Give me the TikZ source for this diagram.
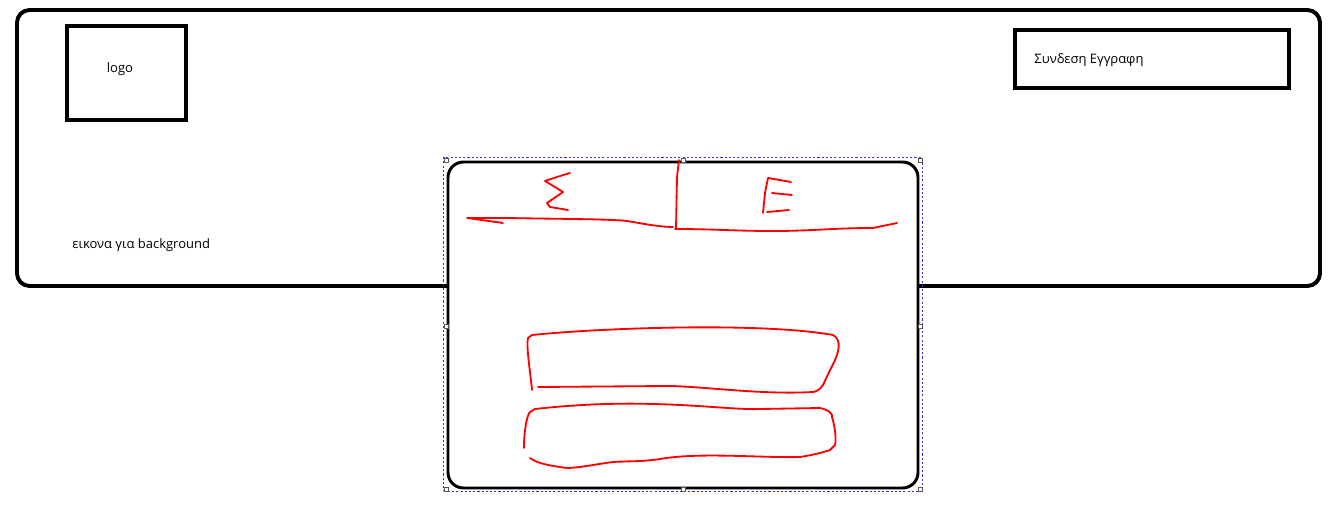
\documentclass[tikz,border=0pt]{standalone}
\usepackage{fontspec}
\setmainfont{Open Sans}
\usetikzlibrary{fit}

\tikzset{
    mockbox/.style={draw, line width=5.6pt, inner sep=0pt},
    redline/.style={draw=red, line width=2.6pt, line cap=round, line join=round},
    handle/.style={draw=gray!70!black, fill=white, line width=0.8pt, minimum size=6pt, inner sep=0pt},
    label/.style={font=\fontsize{18.5}{21}\selectfont}
}

\begin{document}
\begin{tikzpicture}[x=0.05cm, y=-0.05cm]

\useasboundingbox (0,0) rectangle (1334,521);

% header strip
\node[mockbox, rounded corners=18pt, fit={(17,10) (1320,286)}] (header) {};
\node[mockbox, fit={(67,26) (186,120)}] (logobox) {};
\node[label] (logo) at (120,69) {logo};
\node[mockbox, line width=6.5pt, fit={(1015,30) (1289,88)}] (signbox) {};
\node[label, anchor=west] (sign) at (1032,60) {Συνδεση Εγγραφη};
\node[label, anchor=west] (bgtext) at (70,245) {εικονα για background};

% login panel
\node[draw=blue!60!gray, dashed, line width=0.8pt, fit={(446,160) (920,489)}] (select) {};
\node[mockbox, line width=4.2pt, rounded corners=22pt, fill=white, fit={(448,162) (918,488)}] (panel) {};
\foreach \x/\y in {446/160, 683/160, 920/160, 446/326, 920/326, 446/489, 683/489, 920/489}
    \node[handle] at (\x,\y) {};

% tabs
\draw[redline] (679,160) -- (677,177) -- (676,229);
\draw[redline] (503,223) -- (467,218) -- (507,218) .. controls (560,219) and (610,219) .. (627,221)
    .. controls (645,224) and (660,227) .. (673,227);
\draw[redline] (675,229) to[out=0, in=180] (773,231) to[out=0, in=180] (873,228) -- (897,223);
\draw[redline] (570,173) -- (557,177) -- (545,181) -- (563,192) -- (547,203) -- (550,207) -- (568,210);
\draw[redline] (791,182) -- (768,178) -- (765,193) -- (763,213);
\draw[redline] (792,195) -- (772,193);
\draw[redline] (767,212) -- (789,210);

% input fields
\draw[redline] (532,390) .. controls (530,370) and (526,345) .. (528,338) -- (532,335)
    .. controls (600,328) and (760,322) .. (833,335) .. controls (842,340) and (840,352) .. (830,370)
    -- (823,385) .. controls (820,390) and (815,392) .. (813,392)
    .. controls (760,395) and (700,386) .. (667,386) -- (538,387);
\draw[redline] (524,448) .. controls (524,430) and (527,415) .. (530,412) -- (535,409)
    .. controls (580,404) and (620,403) .. (653,404) .. controls (700,405) and (740,410) .. (760,409)
    -- (820,408) .. controls (830,410) and (833,415) .. (832,417)
    .. controls (836,430) and (836,442) .. (835,445) -- (830,450) .. controls (815,455) and (805,456) .. (800,457)
    .. controls (760,458) and (700,452) .. (660,459) .. controls (640,462) and (625,461) .. (613,462)
    .. controls (590,465) and (570,470) .. (560,467) .. controls (545,465) and (535,462) .. (530,458);

\end{tikzpicture}
\end{document}
